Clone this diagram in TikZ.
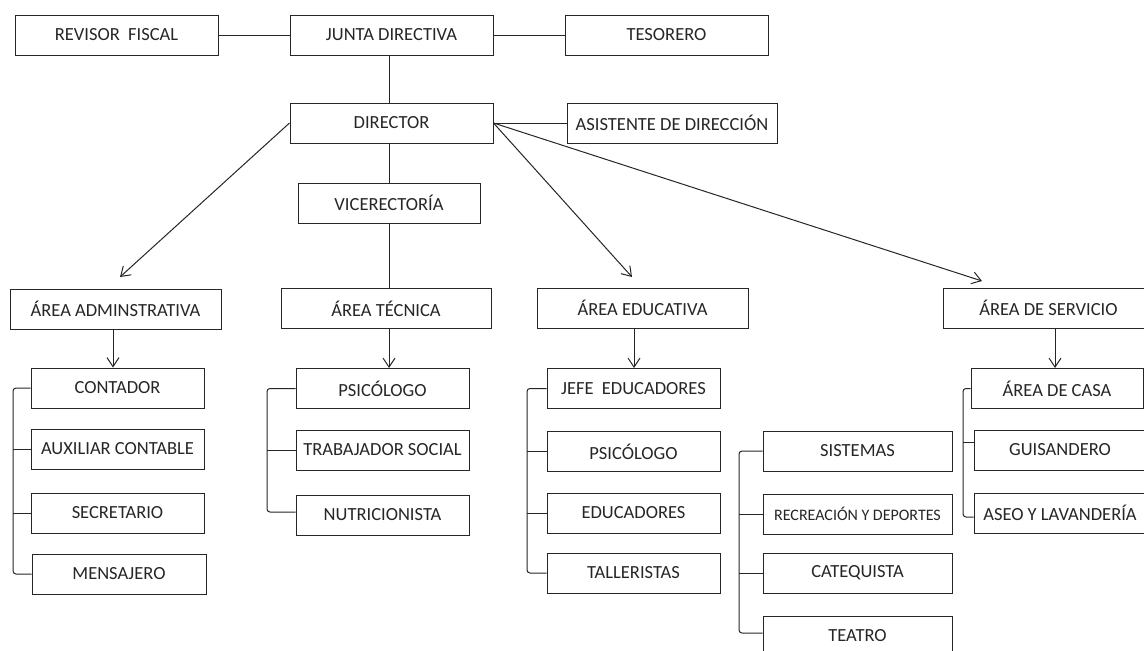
\documentclass[tikz,border=0pt]{standalone}
\usepackage{fontspec}
\setmainfont{Carlito}
\usetikzlibrary{arrows.meta}
\begin{document}
\begin{tikzpicture}[x=1pt,y=-1pt,
  box/.style={draw=black!85, line width=1pt, inner sep=0pt, minimum height=40pt, fill=white,
    font=\fontsize{18.5}{21}\selectfont, text=black!85},
  conn/.style={draw=black!85, line width=1pt},
  arr/.style={conn, -{Straight Barb[length=9pt,width=12pt,line width=1pt]}},
  brk/.style={conn, rounded corners=3pt}]
\clip (0,0) rectangle (1144,651);
\fill[white] (0,0) rectangle (1144,651);
% top level
\node[box, minimum width=203pt] (revisor) at (116.5,35) {REVISOR\ \ FISCAL};
\node[box, minimum width=203pt] (junta) at (391.5,35) {JUNTA DIRECTIVA};
\node[box, minimum width=203pt] (tesorero) at (666.5,35) {TESORERO};
\node[box, minimum width=203pt] (director) at (391.5,123) {DIRECTOR};
\node[box, minimum width=210pt] (asistente) at (672,123) {ASISTENTE DE DIRECCIÓN};
\node[box, minimum width=182pt] (vice) at (389,203) {VICERECTORÍA};
% areas
\node[box, minimum width=211pt] (admin) at (115.5,309) {ÁREA ADMINSTRATIVA};
\node[box, minimum width=210pt] (tecnica) at (386,308.5) {ÁREA TÉCNICA};
\node[box, minimum width=211pt] (educ) at (642.5,308) {ÁREA EDUCATIVA};
\node[box, minimum width=211pt] (servicio) at (1048.5,308) {ÁREA DE SERVICIO};
% admin group
\node[box, minimum width=173pt] (contador) at (117.5,388) {CONTADOR};
\node[box, minimum width=173pt] (aux) at (117.5,449) {AUXILIAR CONTABLE};
\node[box, minimum width=173pt] (secr) at (117.5,513) {SECRETARIO};
\node[box, minimum width=174pt] (mens) at (119,574) {MENSAJERO};
% tecnica group
\node[box, minimum width=173pt] (psic1) at (382.5,388.5) {PSICÓLOGO};
\node[box, minimum width=173pt] (trab) at (382.5,450) {TRABAJADOR SOCIAL};
\node[box, minimum width=173pt] (nutri) at (382.5,515) {NUTRICIONISTA};
% educativa group
\node[box, minimum width=173pt] (jefe) at (633.5,388.5) {JEFE\ \ EDUCADORES};
\node[box, minimum width=173pt] (psic2) at (633.5,451.5) {PSICÓLOGO};
\node[box, minimum width=173pt] (educadores) at (633.5,513) {EDUCADORES};
\node[box, minimum width=173pt] (talleristas) at (633.5,573) {TALLERISTAS};
% second educativa group
\node[box, minimum width=189pt] (sistemas) at (857.5,451) {SISTEMAS};
\node[box, minimum width=189pt, font=\fontsize{16}{19}\selectfont] (recreacion) at (857.5,514) {RECREACIÓN Y DEPORTES};
\node[box, minimum width=189pt] (catequista) at (857.5,573) {CATEQUISTA};
\node[box, minimum width=189pt] (teatro) at (857.5,636) {TEATRO};
% servicio group
\node[box, minimum width=172pt] (casa) at (1057,388.5) {ÁREA DE CASA};
\node[box, minimum width=172pt] (guisandero) at (1060,450) {GUISANDERO};
\node[box, minimum width=172pt] (aseo) at (1060,513) {ASEO Y LAVANDERÍA};
% helper coordinates
\coordinate (tipA) at (120,277);
\coordinate (tipE) at (632,277);
\coordinate (tipS) at (982,281);
\coordinate (brA) at (13,0);
\coordinate (brT) at (267,0);
\coordinate (brE) at (527,0);
\coordinate (brX) at (739,0);
\coordinate (brS) at (963,0);
% top connectors
\draw[conn] (revisor.east) -- (junta.west);
\draw[conn] (junta.east) -- (tesorero.west);
\draw[conn] (vice.north |- junta.south) -- (vice.north |- director.north);
\draw[conn] (director.east) -- (asistente.west);
\draw[conn] (vice.north |- director.south) -- (vice.north);
\draw[conn] (vice.south) -- (vice.south |- tecnica.north);
\draw[arr] (director.west) -- (tipA);
\draw[arr] (director.east) -- (tipE);
\draw[arr] (director.east) -- (tipS);
% area to first item
\draw[arr] (113,329) coordinate (a1) -- (a1 |- contador.north);
\draw[arr] (vice.south |- tecnica.south) -- (vice.south |- psic1.north);
\draw[arr] (634,328) coordinate (a3) -- (a3 |- jefe.north);
\draw[arr] (1055,328) coordinate (a4) -- (a4 |- casa.north);
% brackets
\draw[brk] (contador.west) -- (contador.west -| brA) -- (mens.west -| brA) -- (mens.west);
\draw[conn] (aux.west) -- (aux.west -| brA);
\draw[conn] (secr.west) -- (secr.west -| brA);
\draw[brk] (psic1.west) -- (psic1.west -| brT) -- ([yshift=3pt]nutri.west -| brT) -- ([yshift=3pt]nutri.west);
\draw[conn] (trab.west) -- (trab.west -| brT);
\draw[brk] (jefe.west) -- (jefe.west -| brE) -- (talleristas.west -| brE) -- (talleristas.west);
\draw[conn] (psic2.west) -- (psic2.west -| brE);
\draw[conn] (educadores.west) -- (educadores.west -| brE);
\draw[brk] (sistemas.west) -- (sistemas.west -| brX) -- ([yshift=3pt]teatro.west -| brX) -- ([yshift=3pt]teatro.west);
\draw[conn] (recreacion.west) -- (recreacion.west -| brX);
\draw[conn] (catequista.west) -- (catequista.west -| brX);
\draw[brk] (casa.west) -- (casa.west -| brS) -- ([yshift=-4pt]aseo.west -| brS) -- ([yshift=-4pt]aseo.west);
\draw[conn] ([yshift=8pt]guisandero.west) -- ([yshift=8pt]guisandero.west -| brS);
\end{tikzpicture}
\end{document}
